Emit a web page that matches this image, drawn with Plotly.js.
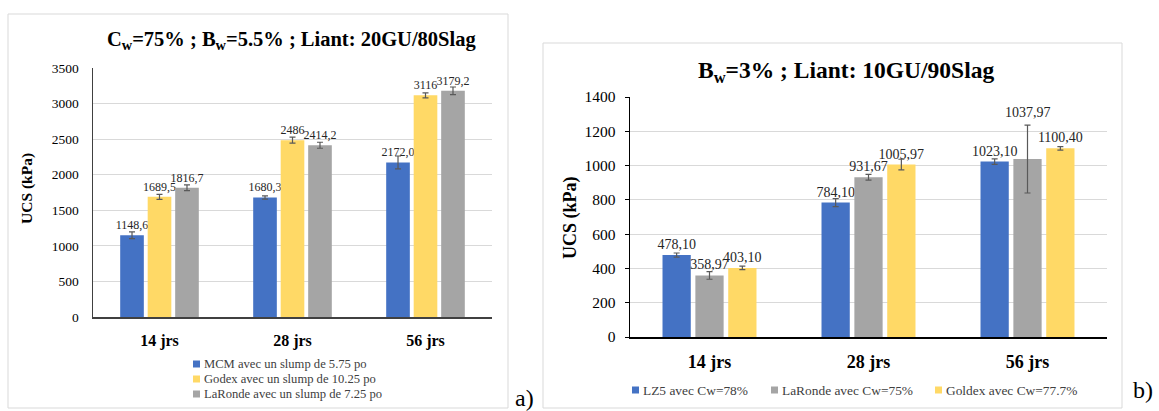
<!DOCTYPE html>
<html><head><meta charset="utf-8">
<script src="https://cdn.plot.ly/plotly-3.0.1.min.js"></script>
<style>html,body{margin:0;padding:0;background:#fff}#chart{width:1159px;height:411px}</style>
</head><body><div id="chart"></div>
<script>
// ---------- data ----------
const categories = ['14 jrs', '28 jrs', '56 jrs'];

// chart a)
const namesA = ['MCM avec un slump de 5.75 po', 'Godex avec un slump de 10.25 po', 'LaRonde avec un slump de 7.25 po'];
const mcmValues = [1148.6, 1680.3, 2172.0];
const mcmErrors = [47, 23, 91];
const mcmLabels = ['1148,6', '1680,3', '2172,0'];
const godexValues = [1689.5, 2486, 3116];
const godexErrors = [35, 42, 35];
const godexLabels = ['1689,5', '2486', '3116'];
const larondeAValues = [1816.7, 2414.2, 3179.2];
const larondeAErrors = [40, 42, 54];
const larondeALabels = ['1816,7', '2414,2', '3179,2'];

// chart b)
const namesB = ['LZ5 avec Cw=78%', 'LaRonde avec Cw=75%', 'Goldex avec Cw=77.7%'];
const lz5Values = [478.10, 784.10, 1023.10];
const lz5Errors = [12, 23, 16];
const larondeBValues = [358.97, 931.67, 1037.97];
const larondeBErrors = [22, 17, 198];
const goldexValues = [403.10, 1005.97, 1100.40];
const goldexErrors = [10, 31, 10];

const titleA = 'C<sub>w</sub>=75% ; B<sub>w</sub>=5.5% ; Liant: 20GU/80Slag';
const titleB = 'B<sub>w</sub>=3% ; Liant: 10GU/90Slag';
const yTitle = 'UCS (kPa)';

// ---------- styling ----------
const W = 1159, H = 411;
const px = x => x / W, py = y => 1 - y / H;
const FONT = 'Liberation Serif';
const BLUE = '#4472C4', YELLOW = '#FFD966', GRAY = '#A5A5A5';
const ERR = '#595959';
const fmt = v => v.toFixed(2).replace('.', ',');

function bar(name, values, errors, labels, color, xa, ya, size, positions) {
  return {
    type: 'bar', name: name, x: categories, y: values,
    xaxis: xa, yaxis: ya,
    marker: {color: color, line: {width: 0}},
    error_y: {type: 'data', array: errors, visible: true, color: ERR, thickness: 1.2, width: 3},
    text: labels, textposition: positions || 'outside', cliponaxis: false, constraintext: 'none',
    textfont: {family: FONT, size: size, color: '#262626'},
    showlegend: false, hoverinfo: 'x+y'
  };
}

const data = [
  bar(namesA[0], mcmValues, mcmErrors, mcmLabels, BLUE, 'x', 'y', 12),
  bar(namesA[1], godexValues, godexErrors, godexLabels, YELLOW, 'x', 'y', 12),
  bar(namesA[2], larondeAValues, larondeAErrors, larondeALabels, GRAY, 'x', 'y', 12),
  bar(namesB[0], lz5Values, lz5Errors, lz5Values.map(fmt), BLUE, 'x2', 'y2', 14),
  // label of the 1037,97 bar sits above its error bar (annotation below), as in the reference
  bar(namesB[1], larondeBValues, larondeBErrors, larondeBValues.map(fmt), GRAY, 'x2', 'y2', 14, ['outside', 'outside', 'none']),
  bar(namesB[2], goldexValues, goldexErrors, goldexValues.map(fmt), YELLOW, 'x2', 'y2', 14)
];

const annotations = [
  {text: titleA, x: px(291), y: py(40), xref: 'paper', yref: 'paper', showarrow: false,
   font: {family: FONT, size: 20.5, color: '#000', weight: 'bold'}, xanchor: 'center', yanchor: 'middle'},
  {text: titleB, x: px(846), y: py(72), xref: 'paper', yref: 'paper', showarrow: false,
   font: {family: FONT, size: 23.5, color: '#000', weight: 'bold'}, xanchor: 'center', yanchor: 'middle'},
  {text: yTitle, x: px(27), y: py(189), xref: 'paper', yref: 'paper', showarrow: false, textangle: -90,
   font: {family: FONT, size: 15.5, color: '#000', weight: 'bold'}, xanchor: 'center', yanchor: 'middle'},
  {text: yTitle, x: px(570), y: py(218), xref: 'paper', yref: 'paper', showarrow: false, textangle: -90,
   font: {family: FONT, size: 18, color: '#000', weight: 'bold'}, xanchor: 'center', yanchor: 'middle'},
  {text: fmt(larondeBValues[2]), x: categories[2], y: larondeBValues[2] + larondeBErrors[2], xref: 'x2', yref: 'y2',
   showarrow: false, yanchor: 'bottom', yshift: 3, font: {family: FONT, size: 14, color: '#262626'}},
  {text: 'a)', x: px(524), y: py(398), xref: 'paper', yref: 'paper', showarrow: false,
   font: {family: FONT, size: 24, color: '#000'}, xanchor: 'center', yanchor: 'middle'},
  {text: 'b)', x: px(1143), y: py(390), xref: 'paper', yref: 'paper', showarrow: false,
   font: {family: FONT, size: 24, color: '#000'}, xanchor: 'center', yanchor: 'middle'}
];

const shapes = [
  {type: 'rect', xref: 'paper', yref: 'paper', x0: px(8), x1: px(508), y0: py(408), y1: py(14),
   line: {color: '#D9D9D9', width: 1}, layer: 'below'},
  {type: 'rect', xref: 'paper', yref: 'paper', x0: px(543), x1: px(1122), y0: py(408), y1: py(43),
   line: {color: '#D9D9D9', width: 1}, layer: 'below'}
];

// legends (drawn as small squares + text)
const colorsA = [BLUE, YELLOW, GRAY];
const legendA = namesA.map((n, i) => ({x: 193, y: 364 + 15 * i, name: n, color: colorsA[i]}));
const colorsB = [BLUE, GRAY, YELLOW];
const legendBx = [632, 771, 935];
const legendB = namesB.map((n, i) => ({x: legendBx[i], y: 390, name: n, color: colorsB[i]}));
legendA.forEach(it => {
  shapes.push({type: 'rect', xref: 'paper', yref: 'paper', x0: px(it.x), x1: px(it.x + 7), y0: py(it.y + 3.5), y1: py(it.y - 3.5),
    fillcolor: it.color, line: {width: 0}});
  annotations.push({text: it.name, x: px(it.x + 9), y: py(it.y), xref: 'paper', yref: 'paper', showarrow: false,
    xanchor: 'left', yanchor: 'middle', font: {family: FONT, size: 12.6, color: '#404040'}});
});
legendB.forEach(it => {
  shapes.push({type: 'rect', xref: 'paper', yref: 'paper', x0: px(it.x), x1: px(it.x + 7), y0: py(it.y + 3.5), y1: py(it.y - 3.5),
    fillcolor: it.color, line: {width: 0}});
  annotations.push({text: it.name, x: px(it.x + 9), y: py(it.y), xref: 'paper', yref: 'paper', showarrow: false,
    xanchor: 'left', yanchor: 'middle', font: {family: FONT, size: 13.4, color: '#404040'}});
});

const layout = {
  width: W, height: H, margin: {l: 0, r: 0, t: 0, b: 0},
  paper_bgcolor: '#fff', plot_bgcolor: 'rgba(0,0,0,0)',
  font: {family: FONT},
  barmode: 'group', bargap: 0.38, bargroupgap: 0.14,
  showlegend: false,
  xaxis: {domain: [px(93), px(492)], anchor: 'y', type: 'category',
    showline: true, linecolor: '#404040', linewidth: 1.5, ticks: '', showgrid: false,
    tickfont: {family: FONT, size: 16, color: '#000', weight: 'bold'}, ticklabelstandoff: 8},
  yaxis: {domain: [py(317), py(68)], anchor: 'x', range: [0, 3500], dtick: 500,
    showline: true, linecolor: '#404040', linewidth: 1.5, showgrid: true, gridcolor: '#D9D9D9', gridwidth: 1,
    zeroline: false, ticks: '', tickfont: {family: FONT, size: 13.5, color: '#000'}, ticklabelstandoff: 10},
  xaxis2: {domain: [px(630), px(1107)], anchor: 'y2', type: 'category',
    showline: true, linecolor: '#000', linewidth: 1.5, ticks: '', showgrid: false,
    tickfont: {family: FONT, size: 18, color: '#000', weight: 'bold'}, ticklabelstandoff: 8},
  yaxis2: {domain: [py(337), py(97)], anchor: 'x2', range: [0, 1400], dtick: 200,
    showline: true, linecolor: '#000', linewidth: 1.5, showgrid: true, gridcolor: '#D9D9D9', gridwidth: 1,
    zeroline: false, ticks: 'outside', ticklen: 4, tickcolor: '#000', tickfont: {family: FONT, size: 15.5, color: '#000'}, ticklabelstandoff: 6},
  annotations: annotations, shapes: shapes
};

Plotly.newPlot('chart', data, layout, {staticPlot: true, displayModeBar: false});
</script></body></html>
